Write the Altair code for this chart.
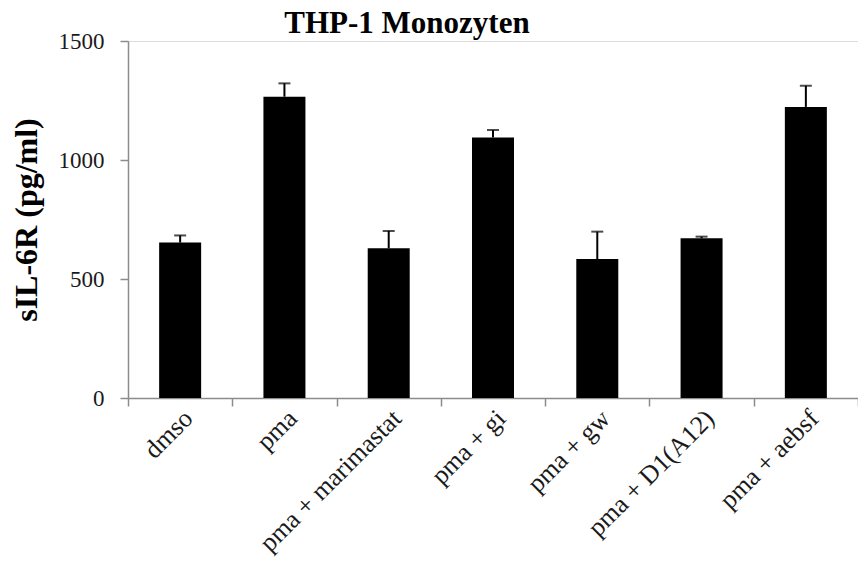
import altair as alt
import pandas as pd

categories = ["dmso", "pma", "pma + marimastat", "pma + gi", "pma + gw", "pma + D1(A12)", "pma + aebsf"]
means = [653, 1266, 629, 1095, 584, 671, 1223]
errors = [30, 56, 73, 31, 115, 7, 89]
y_ticks = [0, 500, 1000, 1500]
chart_title = "THP-1 Monozyten"

df = pd.DataFrame({"cat": categories, "mean": means, "err": errors})
df["upper"] = df["mean"] + df["err"]

FONT = "Liberation Serif"
AXIS_GRAY = "#8c8c8c"

x = alt.X(
    "cat:N",
    sort=categories,
    title=None,
    scale=alt.Scale(paddingInner=0, paddingOuter=0),
    axis=alt.Axis(
        labelAngle=-45,
        labelAlign="right",
        labelBaseline="middle",
        labelFont=FONT,
        labelFontSize=26,
        labelColor="#1a1a1a",
        labelPadding=8,
        labelOffset=8,
        labelLimit=0,
        tickBand="extent",
        tickSize=8,
        tickColor=AXIS_GRAY,
        tickWidth=1.5,
        domainColor=AXIS_GRAY,
        domainWidth=1.5,
        labelOverlap=False,
    ),
)

y_scale = alt.Scale(domain=[0, 1500], nice=False)

bars = alt.Chart(df).mark_bar(color="black", size=42).encode(
    x=x,
    y=alt.Y(
        "mean:Q",
        scale=y_scale,
        title="sIL-6R (pg/ml)",
        axis=alt.Axis(
            values=y_ticks,
            format="d",
            grid=False,
            labelFont=FONT,
            labelFontSize=23,
            labelColor="#1a1a1a",
            labelPadding=16,
            tickSize=8,
            tickColor=AXIS_GRAY,
            tickWidth=1.5,
            domainColor=AXIS_GRAY,
            domainWidth=1.5,
            titleFont=FONT,
            titleFontSize=32,
            titleFontWeight="bold",
            titleColor="black",
            titleX=-102,
            titleY=178.5,
            titleAngle=-90,
            titleAlign="center",
            titleBaseline="middle",
        ),
    ),
)

rules = alt.Chart(df).mark_rule(color="black", strokeWidth=2).encode(
    x=alt.X("cat:N", sort=categories),
    y=alt.Y("mean:Q", scale=y_scale),
    y2="upper:Q",
)

caps = alt.Chart(df).mark_tick(color="black", thickness=2, size=12).encode(
    x=alt.X("cat:N", sort=categories),
    y=alt.Y("upper:Q", scale=y_scale),
)

title_mark = alt.Chart(pd.DataFrame({"t": [chart_title]})).mark_text(
    font=FONT,
    fontSize=31,
    fontWeight="bold",
    color="black",
    align="center",
    baseline="alphabetic",
).encode(text="t:N", x=alt.value(279), y=alt.value(-8))

chart = (
    alt.layer(bars, rules, caps, title_mark)
    .properties(
        width=730,
        height=357,
        autosize=alt.AutoSizeParams(type="none"),
        padding={"left": 120, "top": 33, "right": 0, "bottom": 159},
    )
    .configure_view(stroke=None)
    .configure(background="white")
)

chart.save("out.html", embed_options={"renderer": "svg", "actions": False})
